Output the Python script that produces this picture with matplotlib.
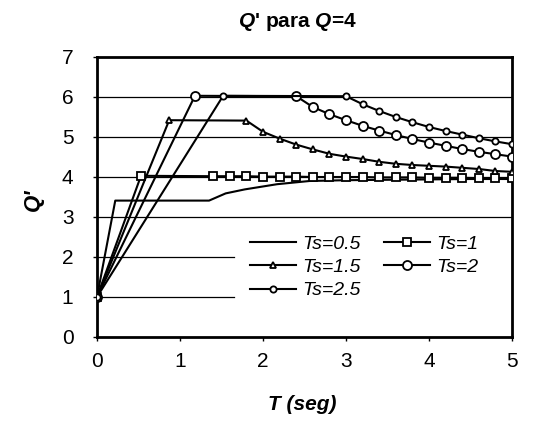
import matplotlib
matplotlib.use("Agg")
import matplotlib.pyplot as plt

plt.rcParams["font.family"] = ["Liberation Sans", "DejaVu Sans"]
plt.rcParams["mathtext.fontset"] = "custom"
plt.rcParams["mathtext.it"] = "Liberation Sans:italic:bold"
plt.rcParams["mathtext.rm"] = "Liberation Sans:bold"

# Q' curves, one pair of lists per Ts
t_05 = [0, 0.22, 1.35, 1.55, 1.78, 2.17, 2.56, 3.0, 3.5, 4.0, 4.5, 5.0]
q_05 = [1.0, 3.41, 3.41, 3.59, 3.69, 3.82, 3.90, 3.92, 3.93, 3.94, 3.95, 3.95]

t_1 = [0, 0.53, 1.4, 1.6, 1.8, 2.0, 2.2, 2.4, 2.6, 2.8, 3.0, 3.2, 3.4, 3.6,
       3.8, 4.0, 4.2, 4.4, 4.6, 4.8, 5.0]
q_1 = [1.0, 4.03, 4.02, 4.02, 4.02, 4.01, 4.01, 4.01, 4.0, 4.0, 4.0, 4.0, 3.99,
       3.99, 3.99, 3.98, 3.98, 3.98, 3.97, 3.97, 3.97]

t_15 = [0, 0.87, 1.8, 2.0, 2.2, 2.4, 2.6, 2.8, 3.0, 3.2, 3.4, 3.6, 3.8, 4.0,
        4.2, 4.4, 4.6, 4.8, 5.0]
q_15 = [1.0, 5.42, 5.41, 5.13, 4.96, 4.81, 4.69, 4.58, 4.51, 4.45, 4.38, 4.33,
        4.30, 4.28, 4.26, 4.23, 4.20, 4.15, 4.13]

t_2 = [0, 1.18, 2.4, 2.6, 2.8, 3.0, 3.2, 3.4, 3.6, 3.8, 4.0, 4.2, 4.4, 4.6,
       4.8, 5.0]
q_2 = [1.0, 6.03, 6.02, 5.75, 5.57, 5.42, 5.28, 5.16, 5.05, 4.95, 4.86, 4.78,
       4.70, 4.63, 4.57, 4.51]

t_25 = [0, 1.52, 3.0, 3.2, 3.4, 3.6, 3.8, 4.0, 4.2, 4.4, 4.6, 4.8, 5.0]
q_25 = [1.0, 6.03, 6.02, 5.82, 5.65, 5.50, 5.37, 5.25, 5.15, 5.06, 4.97, 4.89,
        4.82]

x_ticks = [0, 1, 2, 3, 4, 5]
y_ticks = [0, 1, 2, 3, 4, 5, 6, 7]

fig = plt.figure(figsize=(5.34, 4.24), dpi=100)
ax = fig.add_axes([97 / 534, 87 / 424, 415 / 534, 280 / 424])

# gridlines; the two lowest stop where the legend box begins
for y in y_ticks[1:-1]:
    xmax = 0.33 if y < 3 else 1.0
    ax.axhline(y, xmin=0, xmax=xmax, color="black", lw=0.9, zorder=1)

line_kw = dict(color="black", lw=1.5, zorder=3)
h05, = ax.plot(t_05, q_05, label="Ts=0.5", **line_kw)
h1, = ax.plot(t_1, q_1, marker="s", ms=5.5, mfc="white", mec="black", mew=1.3,
              label="Ts=1", **line_kw)
h15, = ax.plot(t_15, q_15, marker="^", ms=5, mfc="white", mec="black", mew=1.3,
               label="Ts=1.5", **line_kw)
h2, = ax.plot(t_2, q_2, marker="o", ms=6.5, mfc="white", mec="black", mew=1.3,
              label="Ts=2", **line_kw)
h25, = ax.plot(t_25, q_25, marker="o", ms=4.5, mfc="white", mec="black",
               mew=1.3, label="Ts=2.5", **line_kw)

ax.set_xlim(0, 5)
ax.set_ylim(0, 7)
ax.set_xticks(x_ticks)
ax.set_yticks(y_ticks)
ax.tick_params(axis="both", labelsize=15, length=3, width=1, direction="out")
ax.tick_params(axis="y", pad=14)
ax.tick_params(axis="x", pad=8)
for s in ax.spines.values():
    s.set_linewidth(2)

# legend filled row by row like the original
leg = ax.legend([h05, h15, h25, h1, h2],
                ["Ts=0.5", "Ts=1.5", "Ts=2.5", "Ts=1", "Ts=2"],
                ncol=2, loc="upper left", bbox_to_anchor=(0.33, 0.42),
                frameon=False,
                prop=dict(style="italic", size=14),
                handlelength=2.4, columnspacing=1.2, labelspacing=0.3,
                handletextpad=0.3, borderpad=0.3)
leg.set_zorder(2)

fig.text(297 / 534, 1 - 22 / 424, "$Q$' para $Q$=4",
         ha="center", va="center", fontsize=15, fontweight="bold")
fig.text(302 / 534, 1 - 405 / 424, "T (seg)", ha="center", va="center",
         fontsize=15, fontweight="bold", style="italic")
fig.text(33 / 534, 1 - 200 / 424, "Q'", ha="center", va="center",
         fontsize=16, fontweight="bold", style="italic", rotation=90)

fig.savefig("out.png", dpi=100)
